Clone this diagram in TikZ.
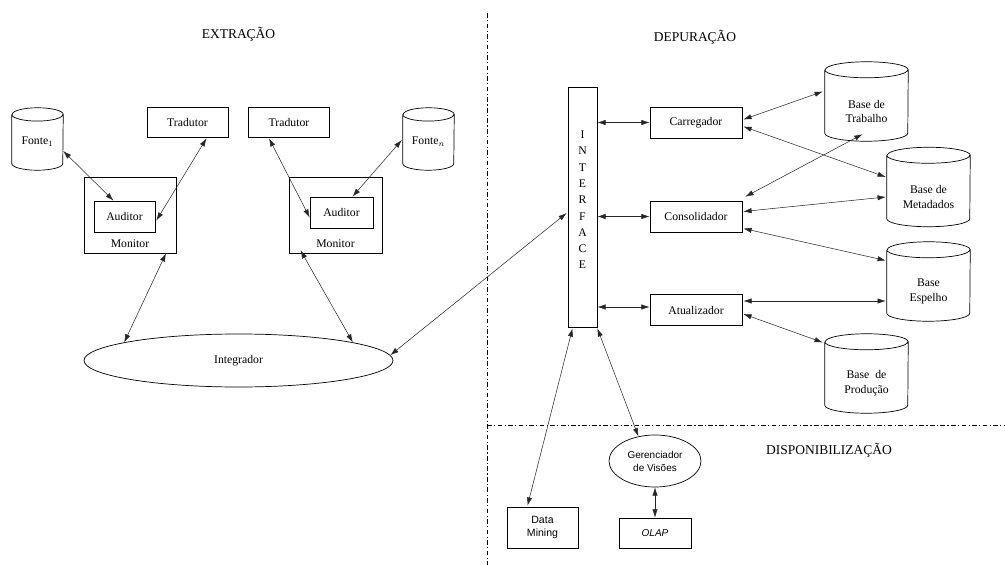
\documentclass[tikz,border=0pt]{standalone}
\usepackage{fontspec}
\setmainfont{Liberation Serif}
\setsansfont{Liberation Sans}
\usetikzlibrary{shapes,arrows.meta,calc}

% cilindro em volta de um no: nome, raio x, raio y
\newcommand{\dbcyl}[3]{%
  \draw[line width=0.6pt] ([yshift=-#3]#1.north west) -- ([yshift=#3]#1.south west)
      arc (180:360:#2 and #3) -- ([yshift=-#3]#1.north east) arc (0:180:#2 and #3)
      ([yshift=-#3]#1.north west) arc (180:360:#2 and #3);}

\begin{document}
\begin{tikzpicture}[x=0.03cm,y=-0.03cm,
    lbl/.style={font=\fontsize{10}{12.5}\selectfont,align=center},
    box/.style={draw,line width=0.6pt,inner sep=0pt,lbl},
    dbase/.style={inner sep=0pt,minimum width=2.49cm,minimum height=2.37cm},
    dbtxt/.style={lbl,yshift=-8.5pt},
    title/.style={font=\fontsize{11.5}{14}\selectfont},
    sans/.style={font=\sffamily\fontsize{8.5}{11}\selectfont,align=center},
    link/.style={{Latex[length=7pt,width=4.5pt]}-{Latex[length=7pt,width=4.5pt]},line width=0.45pt,black!85},
    sep/.style={line width=0.6pt,dash pattern=on 4pt off 2pt on 1pt off 2pt}]
    \useasboundingbox (0,0) rectangle (1005,565);

    % Regioes
    \draw[sep] (487,13) -- (487,565);
    \draw[sep] (487,425) -- (1005,425);
    \node[title] (extr) at (238.5,34) {EXTRAÇÃO};
    \node[title] (depu) at (695,37) {DEPURAÇÃO};
    \node[title] (disp) at (829,450) {DISPONIBILIZAÇÃO};

    % Extracao
    \node[dbase,minimum width=1.53cm,minimum height=1.86cm,label={[lbl,yshift=-2.5pt]center:Fonte$_1$}] (fonte1) at (37.5,139) {};
    \node[dbase,minimum width=1.53cm,minimum height=1.86cm,label={[lbl,yshift=-2.5pt]center:Fonte$_n$}] (fonten) at (428.5,139) {};
    \dbcyl{fonte1}{0.765cm}{0.2cm}
    \dbcyl{fonten}{0.765cm}{0.2cm}
    \node[box,minimum width=2.43cm,minimum height=0.9cm] (trad1) at (187.5,122) {Tradutor};
    \node[box,minimum width=2.43cm,minimum height=0.9cm] (trad2) at (289,122) {Tradutor};
    \node[box,minimum width=2.76cm,minimum height=2.28cm,label={[lbl,anchor=south,yshift=1pt]south:Monitor}] (mon1) at (130,215) {};
    \node[box,minimum width=2.79cm,minimum height=2.28cm,label={[lbl,anchor=south,yshift=1pt]south:Monitor}] (mon2) at (335.5,215) {};
    \node[box,minimum width=1.83cm,minimum height=0.93cm] (aud1) at (124.5,216.5) {Auditor};
    \node[box,minimum width=1.89cm,minimum height=0.93cm] (aud2) at (341.5,212.5) {Auditor};
    \node[box,ellipse,minimum width=9.27cm,minimum height=1.59cm] (integ) at (238.5,360.5) {Integrador};

    \draw[link] ($(fonte1.east)+(0,12)$) -- ($(aud1.north)+(-11,0)$);
    \draw[link] ($(aud1.east)+(1,4)$) -- ($(trad1.south)+(19,1)$);
    \draw[link] ($(trad2.south)+(-20,1)$) -- ($(aud2.west)+(0,5)$);
    \draw[link] ($(fonten.west)+(-1,1)$) -- ($(aud2.north)+(11,0)$);
    \draw[link] ($(mon1.south)+(36,0)$) -- (integ.171);
    \draw[link] ($(mon2.south)+(-35,-3)$) -- (integ.9.5);

    % Depuracao
    \node[box,minimum width=0.87cm,minimum height=7.2cm,
        label={[font=\fontsize{10}{13.9}\selectfont,align=center,yshift=6pt]center:I\\N\\T\\E\\R\\F\\A\\C\\E}] (iface) at (582.5,207) {};
    \node[box,minimum width=2.76cm,minimum height=0.93cm] (carr) at (696,122.5) {Carregador};
    \node[box,minimum width=2.76cm,minimum height=0.93cm] (cons) at (696,216.5) {Consolidador};
    \node[box,minimum width=2.76cm,minimum height=0.93cm] (atu) at (696,310) {Atualizador};
    \node[dbase,label={[dbtxt]center:Base de\\Trabalho}] (trab) at (866.5,101.5) {};
    \node[dbase,label={[dbtxt]center:Base de\\Metadados}] (meta) at (928.5,187) {};
    \node[dbase,label={[dbtxt]center:Base\\Espelho}] (esp) at (928.5,281.5) {};
    \node[dbase,label={[dbtxt]center:Base\enspace de\\Produção}] (prod) at (866.5,373.5) {};
    \foreach \b in {trab,meta,esp,prod}{
        \dbcyl{\b}{1.245cm}{0.24cm}
    }

    \draw[link] (integ.2) -- ($(iface.west)+(-1,6)$);
    \draw[link] (carr.west -| iface.east) -- (carr.west);
    \draw[link] (cons.west -| iface.east) -- (cons.west);
    \draw[link] ($(atu.west -| iface.east)+(0,-3)$) -- ($(atu.west)+(0,-3)$);
    \draw[link] ($(carr.east)+(1,-3)$) -- ($(trab.west)+(-2,-10)$);
    \draw[link] ($(carr.east)+(1,4)$) -- ($(meta.west)+(-1,-10)$);
    \draw[link] ($(cons.north east)+(3,-4)$) -- ($(trab.south)+(-4,-7)$);
    \draw[link] ($(cons.east)+(1,-5)$) -- ($(meta.west)+(-1,10)$);
    \draw[link] ($(cons.east)+(1,12)$) -- ($(esp.west)+(-1,-21)$);
    \draw[link] ($(atu.east)+(1,-9)$) -- ($(esp.west)+(-1,19.5)$);
    \draw[link] ($(atu.east)+(1,4)$) -- ($(prod.west)+(-2,-31)$);

    % Disponibilizacao
    \node[box,ellipse,sans,minimum width=2.76cm,minimum height=1.56cm] (ger) at (655,461) {Gerenciador\\de Visões};
    \node[box,sans,minimum width=2.16cm,minimum height=0.9cm] (olap) at (655,533) {\itshape OLAP};
    \node[box,sans,font=\sffamily\fontsize{9}{11}\selectfont,minimum width=2.13cm,minimum height=1.23cm] (dm) at (542.5,527.5) {Data\\Mining};

    \draw[link] ($(iface.south)+(-10,1)$) -- ($(dm.north)+(-15,-1)$);
    \draw[link] ($(iface.south east)+(0,1)$) -- (ger.124);
    \draw[link] (ger.south) -- (olap.north);
\end{tikzpicture}
\end{document}
